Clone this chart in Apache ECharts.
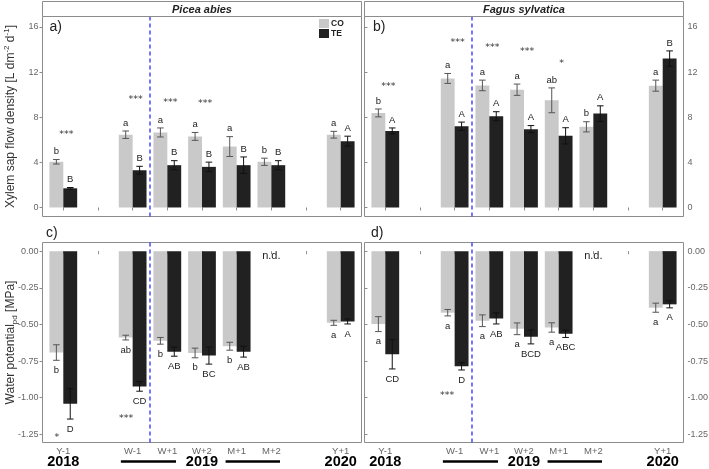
<!DOCTYPE html>
<html><head><meta charset="utf-8">
<script src="https://cdn.jsdelivr.net/npm/echarts@6/dist/echarts.min.js"></script>
<style>html,body{margin:0;padding:0;background:#fff}#c{width:709px;height:469px}</style>
</head><body><div id="c"></div>
<script>
// ---------- DATA ----------
const categories = ['Y-1', '', 'W-1', 'W+1', 'W+2', 'M+1', 'M+2', ' ', 'Y+1'];
const sapTicks = [0, 4, 8, 12, 16];
const wpTicks = [-1.25, -1.0, -0.75, -0.5, -0.25, 0];
const seriesNames = ['CO', 'TE'];
const speciesNames = ['Picea abies', 'Fagus sylvatica'];
const panelTags = ['a)', 'b)', 'c)', 'd)'];
const yearLabels = ['2018', '2019', '2020'];
const ndLabel = 'n.d.';
const ndCategory = 6;
const ndValue = -0.03;

// a) Picea abies – xylem sap flow density
const piceaSapCO = [4.05, null, 6.45, 6.65, 6.3, 5.4, 4.05, null, 6.45];
const piceaSapCOse = [0.2, null, 0.33, 0.4, 0.35, 0.88, 0.32, null, 0.3];
const piceaSapTE = [1.7, null, 3.3, 3.75, 3.6, 3.75, 3.75, null, 5.88];
const piceaSapTEse = [0.07, null, 0.35, 0.4, 0.42, 0.73, 0.4, null, 0.44];
const piceaSapCOletters = ['b', '', 'a', 'a', 'a', 'a', 'b', '', 'a'];
const piceaSapTEletters = ['B', '', 'B', 'B', 'B', 'B', 'B', '', 'A'];
const piceaSapStars = ['***', '', '***', '***', '***', '', '', '', ''];
const piceaSapStarY = [6.47, null, 9.56, 9.32, 9.18, null, null, null, null];

// b) Fagus sylvatica – xylem sap flow density
const fagusSapCO = [8.38, null, 11.44, 10.82, 10.44, 9.5, 7.15, null, 10.8];
const fagusSapCOse = [0.35, null, 0.44, 0.47, 0.5, 1.1, 0.45, null, 0.49];
const fagusSapTE = [6.79, null, 7.2, 8.09, 6.94, 6.35, 8.32, null, 13.2];
const fagusSapTEse = [0.26, null, 0.37, 0.4, 0.32, 0.72, 0.69, null, 0.68];
const fagusSapCOletters = ['b', '', 'a', 'a', 'a', 'ab', 'b', '', 'a'];
const fagusSapTEletters = ['A', '', 'A', 'A', 'A', 'A', 'A', '', 'B'];
const fagusSapStars = ['***', '', '***', '***', '***', '*', '', '', ''];
const fagusSapStarY = [10.7, null, 14.6, 14.2, 13.8, 12.8, null, null, null];

// c) Picea abies – predawn water potential
const piceaWpCO = [-0.692, null, -0.59, -0.612, -0.695, -0.649, null, null, -0.489];
const piceaWpCOse = [0.053, null, 0.016, 0.023, 0.033, 0.027, null, null, 0.017];
const piceaWpTE = [-1.042, null, -0.923, -0.686, -0.713, -0.686, null, null, -0.48];
const piceaWpTEse = [0.104, null, 0.033, 0.031, 0.058, 0.037, null, null, 0.017];
const piceaWpCOletters = ['b', '', 'ab', 'b', 'b', 'b', '', '', 'a'];
const piceaWpTEletters = ['D', '', 'CD', 'AB', 'BC', 'AB', '', '', 'A'];
const piceaWpStars = ['*', '', '***', '', '', '', '', '', ''];
const piceaWpStarY = [-1.275, null, -1.143, null, null, null, null, null, null];

// d) Fagus sylvatica – predawn water potential
const fagusWpCO = [-0.498, null, -0.42, -0.475, -0.53, -0.521, null, null, -0.386];
const fagusWpCOse = [0.051, null, 0.022, 0.04, 0.04, 0.032, null, null, 0.031];
const fagusWpTE = [-0.704, null, -0.786, -0.459, -0.585, -0.564, null, null, -0.363];
const fagusWpTEse = [0.1, null, 0.025, 0.038, 0.048, 0.025, null, null, 0.024];
const fagusWpCOletters = ['a', '', 'a', 'a', 'a', 'a', '', '', 'a'];
const fagusWpTEletters = ['CD', '', 'D', 'AB', 'BCD', 'ABC', '', '', 'A'];
const fagusWpStars = ['', '', '***', '', '', '', '', '', ''];
const fagusWpStarY = [null, null, -0.985, null, null, null, null, null, null];

// ---------- STYLE / LAYOUT ----------
const FONT = '"Liberation Sans", Arial, sans-serif';
const TXT = '#222';
const AXC = '#666';
const BORDER = '#8c8c8c';
const COLORS = ['#c9c9c9', '#212121'];
const ERRC = ['#555555', '#111111'];

const sapName = '{t|Xylem sap flow density [L dm}{s|-2}{t| d}{s|-1}{t|]}';
const wpName = '{t|Water potential}{b|pd}{t| [MPa]}';
const nameRich = {
  t: { fontSize: 12, fontFamily: FONT, color: '#333', lineHeight: 16 },
  s: { fontSize: 8, fontFamily: FONT, color: '#333', lineHeight: 8, verticalAlign: 'top' },
  b: { fontSize: 8, fontFamily: FONT, color: '#333', lineHeight: 8, verticalAlign: 'bottom' }
};

const panels = [
  { left: 42.5, top: 16.5, width: 319, height: 200, side: 'left', min: -0.8, max: 16.93, ticks: sapTicks, dec: 0, up: true,
    co: piceaSapCO, coSe: piceaSapCOse, te: piceaSapTE, teSe: piceaSapTEse, coL: piceaSapCOletters, teL: piceaSapTEletters,
    stars: piceaSapStars, starY: piceaSapStarY, starDx: 3, name: sapName, nd: false, strip: speciesNames[0], tag: panelTags[0], tagX: 49.5, tagY: 27 },
  { left: 364.5, top: 16.5, width: 319, height: 200, side: 'right', min: -0.8, max: 16.93, ticks: sapTicks, dec: 0, up: true,
    co: fagusSapCO, coSe: fagusSapCOse, te: fagusSapTE, teSe: fagusSapTEse, coL: fagusSapCOletters, teL: fagusSapTEletters,
    stars: fagusSapStars, starY: fagusSapStarY, starDx: 3, name: '', nd: false, strip: speciesNames[1], tag: panelTags[1], tagX: 373, tagY: 27 },
  { left: 42.5, top: 242.5, width: 319, height: 200, side: 'left', min: -1.306, max: 0.059, ticks: wpTicks, dec: 2, up: false,
    co: piceaWpCO, coSe: piceaWpCOse, te: piceaWpTE, teSe: piceaWpTEse, coL: piceaWpCOletters, teL: piceaWpTEletters,
    stars: piceaWpStars, starY: piceaWpStarY, starDx: -6.5, name: wpName, nd: true, strip: null, tag: panelTags[2], tagX: 46, tagY: 233 },
  { left: 364.5, top: 242.5, width: 319, height: 200, side: 'right', min: -1.306, max: 0.059, ticks: wpTicks, dec: 2, up: false,
    co: fagusWpCO, coSe: fagusWpCOse, te: fagusWpTE, teSe: fagusWpTEse, coL: fagusWpCOletters, teL: fagusWpTEletters,
    stars: fagusWpStars, starY: fagusWpStarY, starDx: -7.5, name: '', nd: true, strip: null, tag: panelTags[3], tagX: 371, tagY: 233 }
];

const grids = [], xAxes = [], yAxes = [], series = [], graphics = [];
const N = panels.length;

panels.forEach((p, i) => {
  grids.push({ left: p.left, top: p.top, width: p.width, height: p.height, show: true, borderColor: BORDER, borderWidth: 1,
    backgroundColor: 'transparent', outerBoundsMode: 'none', containLabel: false });
  xAxes.push({ gridIndex: i, type: 'value', min: 0, max: 1, show: false });
  yAxes.push({ gridIndex: i, type: 'value', min: p.min, max: p.max, position: p.side,
    axisLine: { show: false }, splitLine: { show: false },
    axisTick: { show: true, length: 3, lineStyle: { color: BORDER }, customValues: p.ticks },
    axisLabel: { customValues: p.ticks, color: AXC, fontSize: 9, fontFamily: FONT, margin: 4,
      formatter: v => Number(v).toFixed(p.dec) },
    name: p.name, nameLocation: 'middle', nameGap: 23.5, nameRotate: 90,
    nameTextStyle: { rich: nameRich }, nameMoveOverlap: false });
});

panels.forEach((p, i) => {
  const band = p.width / 9.2;
  const innerLeft = p.left + band * 0.1;
  const innerWidth = band * 9;
  const gi = N + i;
  grids.push({ left: innerLeft, top: p.top, width: innerWidth, height: p.height, show: false, outerBoundsMode: 'none', containLabel: false });
  xAxes.push({ gridIndex: gi, type: 'category', data: categories,
    axisLine: { show: false },
    axisTick: { show: true, alignWithLabel: true, interval: 0, length: 3, lineStyle: { color: BORDER } },
    axisLabel: { show: !p.up, interval: 0, color: AXC, fontSize: 9.5, fontFamily: FONT, margin: 4 } });
  yAxes.push({ gridIndex: gi, type: 'value', min: p.min, max: p.max, show: false });

  const bw = band * 0.4;
  const groups = [
    { vals: p.co, se: p.coSe, let: p.coL, dx: -0.2 },
    { vals: p.te, se: p.teSe, let: p.teL, dx: 0.2 }
  ];
  groups.forEach((g, k) => {
    series.push({ type: 'bar', name: seriesNames[k], xAxisIndex: gi, yAxisIndex: gi, data: g.vals,
      barWidth: bw, barGap: '0%', itemStyle: { color: COLORS[k] }, silent: true, z: 2 });
  });
  groups.forEach((g, k) => {
    const data = [];
    g.vals.forEach((v, j) => { if (v != null) data.push([j, v, g.se[j]]); });
    series.push({ type: 'custom', xAxisIndex: gi, yAxisIndex: gi, data, silent: true, z: 5,
      renderItem: (params, api) => {
        const j = api.value(0), m = api.value(1), s = api.value(2);
        const bandW = api.size([1, 0])[0];
        const x = api.coord([j, m])[0] + g.dx * bandW;
        const yT = api.coord([j, m + s])[1];
        const yB = api.coord([j, m - s])[1];
        const cap = 3.3;
        const st = { stroke: ERRC[k], lineWidth: 1 };
        const children = [
          { type: 'line', shape: { x1: x, y1: yT, x2: x, y2: yB }, style: st },
          { type: 'line', shape: { x1: x - cap, y1: yT, x2: x + cap, y2: yT }, style: st },
          { type: 'line', shape: { x1: x - cap, y1: yB, x2: x + cap, y2: yB }, style: st }
        ];
        const lt = g.let[j];
        if (lt) {
          children.push({ type: 'text', style: { text: lt, x: x, y: p.up ? yT - 3 : yB + 5,
            font: '9.5px ' + FONT, fill: TXT, textAlign: 'center', align: 'center',
            textVerticalAlign: p.up ? 'bottom' : 'top', verticalAlign: p.up ? 'bottom' : 'top' } });
        }
        return { type: 'group', children };
      } });
  });
  // significance stars
  const sdata = [];
  p.stars.forEach((s, j) => { if (s && p.starY[j] != null) sdata.push([j, p.starY[j]]); });
  series.push({ type: 'custom', xAxisIndex: gi, yAxisIndex: gi, data: sdata, silent: true, z: 6,
    renderItem: (params, api) => {
      const j = api.value(0);
      const c = api.coord([j, api.value(1)]);
      return { type: 'text', style: { text: p.stars[j], x: c[0] + p.starDx, y: c[1],
        font: '9.5px "DejaVu Sans", sans-serif', fill: '#333', textAlign: 'center', align: 'center',
        textVerticalAlign: 'middle', verticalAlign: 'middle' } };
    } });
  // n.d.
  if (p.nd) {
    series.push({ type: 'custom', xAxisIndex: gi, yAxisIndex: gi, data: [[ndCategory, ndValue]], silent: true, z: 6,
      renderItem: (params, api) => {
        const c = api.coord([api.value(0), api.value(1)]);
        return { type: 'text', style: { text: ndLabel, x: c[0], y: c[1], font: '11px ' + FONT, fill: TXT,
          textAlign: 'center', align: 'center', textVerticalAlign: 'middle', verticalAlign: 'middle' } };
      } });
  }
  // dashed treatment line between W-1 and W+1
  series.push({ type: 'custom', xAxisIndex: gi, yAxisIndex: gi, data: [[2, 0]], silent: true, z: 7,
    renderItem: (params, api) => {
      const x = (api.coord([2, 0])[0] + api.coord([3, 0])[0]) / 2;
      const cs = params.coordSys;
      return { type: 'line', shape: { x1: x, y1: cs.y, x2: x, y2: cs.y + cs.height },
        style: { stroke: '#3d3dff', lineWidth: 1.4, lineDash: [4, 3] } };
    } });

  // strip header
  if (p.strip) {
    graphics.push({ type: 'rect', shape: { x: p.left, y: 1.5, width: p.width, height: p.top - 1.5 },
      style: { fill: '#ffffff', stroke: BORDER, lineWidth: 1 }, z: 10 });
    graphics.push({ type: 'text', style: { text: p.strip, x: p.left + p.width / 2, y: (1.5 + p.top) / 2 + 0.5,
      font: 'italic bold 11px ' + FONT, fill: TXT, textAlign: 'center', textVerticalAlign: 'middle' }, z: 11 });
  }
  graphics.push({ type: 'text', style: { text: p.tag, x: p.tagX, y: p.tagY, font: '14px ' + FONT, fill: TXT,
    textAlign: 'left', textVerticalAlign: 'middle' }, z: 11 });

  // year annotations under bottom panels
  if (!p.up) {
    const cx = k => innerLeft + band * (k + 0.5);
    const yy = 461.5;
    const yearPos = [cx(0), cx(4), cx(8)];
    yearLabels.forEach((t, k) => {
      graphics.push({ type: 'text', style: { text: t, x: yearPos[k], y: yy, font: 'bold 14.5px ' + FONT, fill: '#000',
        textAlign: 'center', textVerticalAlign: 'middle' }, z: 11 });
    });
    graphics.push({ type: 'line', shape: { x1: cx(2) - 0.34 * band, y1: yy, x2: cx(3) + 0.25 * band, y2: yy },
      style: { stroke: '#000', lineWidth: 2.5 }, z: 11 });
    graphics.push({ type: 'line', shape: { x1: cx(5) - 0.32 * band, y1: yy, x2: cx(6) + 0.25 * band, y2: yy },
      style: { stroke: '#000', lineWidth: 2.5 }, z: 11 });
  }
});

const chart = echarts.init(document.getElementById('c'), null, { renderer: 'canvas' });
chart.setOption({
  animation: false,
  backgroundColor: '#ffffff',
  grid: grids,
  xAxis: xAxes,
  yAxis: yAxes,
  legend: { data: seriesNames, left: 319, top: 19, orient: 'vertical', icon: 'rect', itemWidth: 10, itemHeight: 9,
    itemGap: 1, padding: 0, selectedMode: false,
    textStyle: { fontSize: 8.5, fontWeight: 'bold', fontFamily: FONT, color: TXT, padding: [0, 0, 0, -3] } },
  series,
  graphic: graphics
});
</script>
</body></html>
